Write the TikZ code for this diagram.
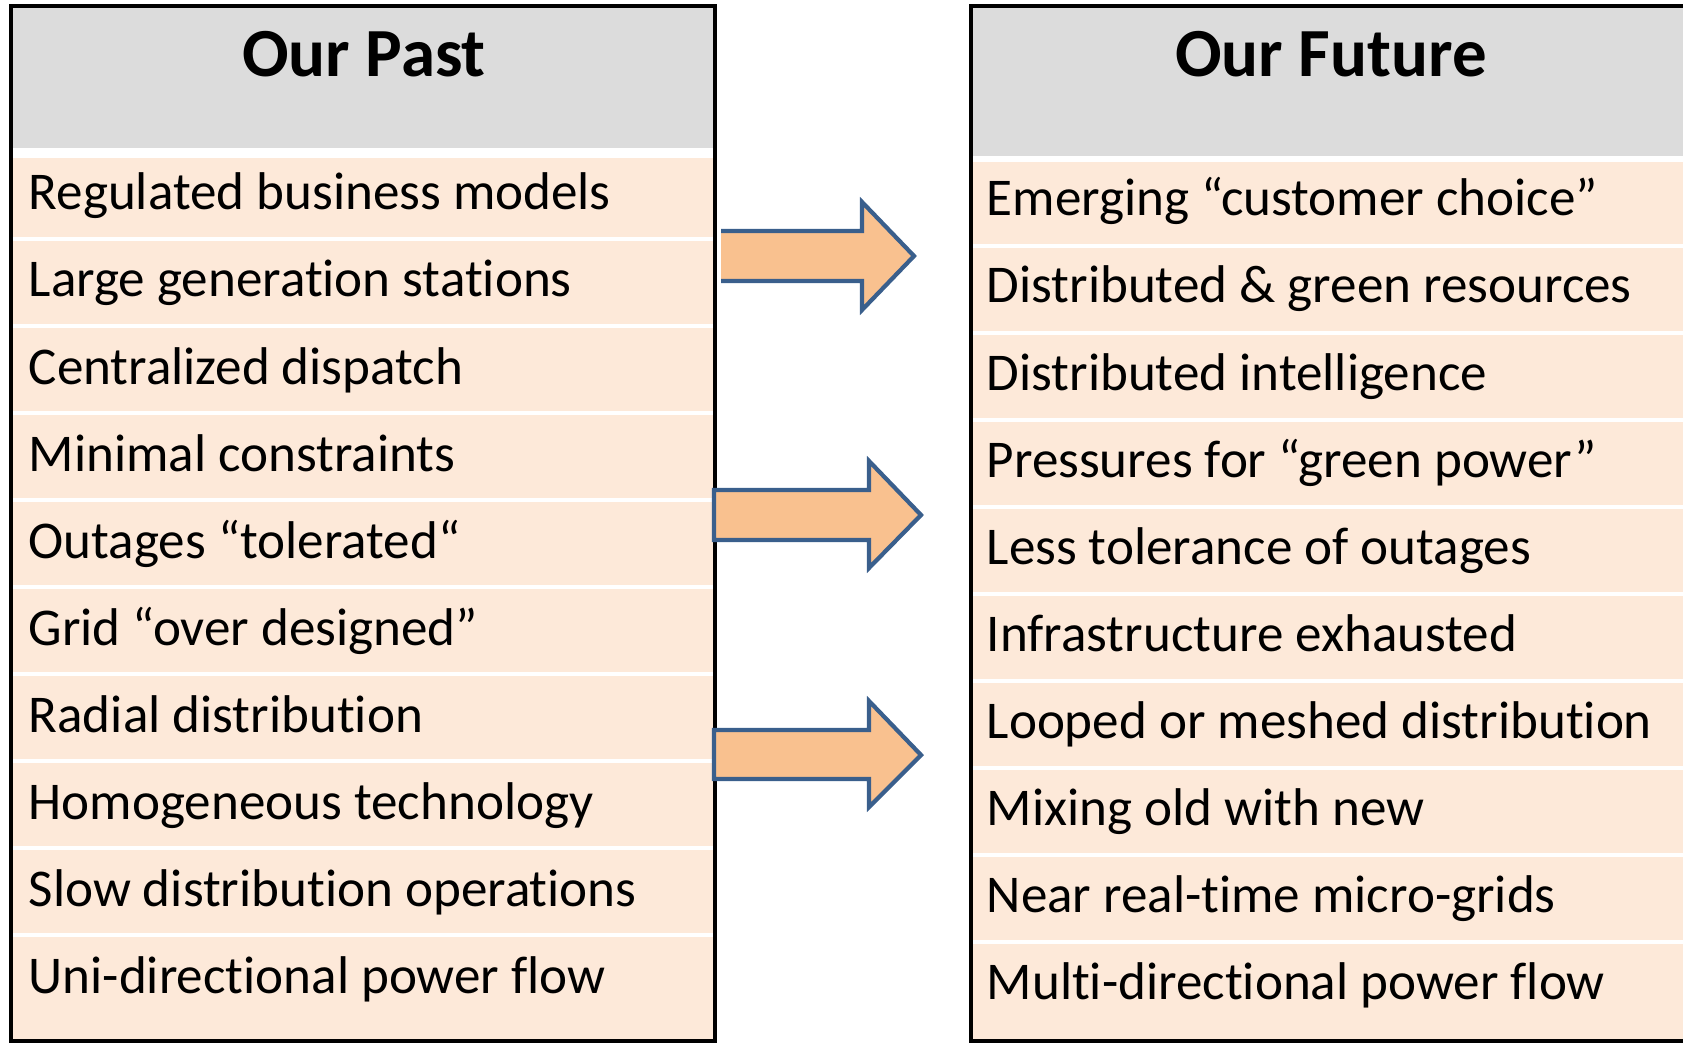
\documentclass[tikz,border=0pt]{standalone}
\usepackage{fontspec}
\setmainfont[Ligatures={NoCommon}]{Carlito}
\definecolor{headgray}{HTML}{DCDCDC}
\definecolor{rowpeach}{HTML}{FDE9D9}
\definecolor{arrowfill}{HTML}{F9C18F}
\definecolor{arrowline}{HTML}{3A5F8C}
\tikzset{
    heading/.style = {
        font = \fontsize{19.6}{23}\selectfont\bfseries,
        anchor = base,
        inner sep = 0pt,
        },
    item/.style = {
        font = \fontsize{15.1}{18}\selectfont,
        anchor = base west,
        inner sep = 0pt,
        },
    column/.style = {
        draw = black,
        line width = 1pt,
        },
    row gap/.style = {
        draw = white,
        line width = 0.9pt,
        },
    shift arrow/.style = {
        fill = arrowfill,
        draw = arrowline,
        line width = 1.2pt,
        line join = miter,
        },
    shift line/.style = {
        draw = arrowline,
        line width = 1.2pt,
        line join = miter,
        },
}

\begin{document}
\begin{tikzpicture}[x=0.01cm, y=-0.01cm]
    \useasboundingbox (0,0) rectangle (1683,1043);

    % left column
    \fill[headgray] (11,6) rectangle (715,148);
    \fill[rowpeach] (11,158) rectangle (715,1041);
    \draw[row gap] (11,239) -- +(704,0) (11,326) -- +(704,0) (11,413) -- +(704,0)
        (11,500) -- +(704,0) (11,587) -- +(704,0) (11,674) -- +(704,0)
        (11,761) -- +(704,0) (11,848) -- +(704,0) (11,935) -- +(704,0);
    \draw[column] (11,6) rectangle (715,1041);

    % right column, runs off the page
    \fill[headgray] (971,6) rectangle (1690,156);
    \fill[rowpeach] (971,162) rectangle (1690,1041);
    \draw[row gap] (971,246) -- +(719,0) (971,333) -- +(719,0) (971,420) -- +(719,0)
        (971,507) -- +(719,0) (971,594) -- +(719,0) (971,681) -- +(719,0)
        (971,768) -- +(719,0) (971,855) -- +(719,0) (971,942) -- +(719,0);
    \draw[column] (971,6) rectangle (1690,1041);

    \node[heading] (past) at (364,77) {Our Past};
    \node[heading] (future) at (1331,77) {Our Future};

    \node[item] (p1) at (28,210) {Regulated business models};
    \node[item] (p2) at (28,297) {Large generation stations};
    \node[item] (p3) at (28,384) {Centralized dispatch};
    \node[item] (p4) at (28,471) {Minimal constraints};
    \node[item] (p5) at (28,558) {Outages “tolerated“};
    \node[item] (p6) at (28,645) {Grid “over designed”};
    \node[item] (p7) at (28,732) {Radial distribution};
    \node[item] (p8) at (28,819) {Homogeneous technology};
    \node[item] (p9) at (28,906) {Slow distribution operations};
    \node[item] (p10) at (28,993) {Uni-directional power flow};

    \node[item] (f1) at (986,216) {Emerging “customer choice”};
    \node[item] (f2) at (986,303) {Distributed \& green resources};
    \node[item] (f3) at (986,390) {Distributed intelligence};
    \node[item] (f4) at (986,477) {Pressures for “green power”};
    \node[item] (f5) at (986,564) {Less tolerance of outages};
    \node[item] (f6) at (986,651) {Infrastructure exhausted};
    \node[item] (f7) at (986,738) {Looped or meshed distribution};
    \node[item] (f8) at (986,825) {Mixing old with new};
    \node[item] (f9) at (986,912) {Near real-time micro-grids};
    \node[item] (f10) at (986,999) {Multi-directional power flow};

    % block arrows between the columns
    \fill[arrowfill] (721,231) -- (862,231) -- (862,202) -- (914,256)
        -- (862,310) -- (862,281) -- (721,281) -- cycle;
    \draw[shift line] (721,231) -- (862,231) -- (862,202) -- (914,256)
        -- (862,310) -- (862,281) -- (721,281);
    \path[shift arrow] (714,490) -- (869,490) -- (869,461) -- (921,515)
        -- (869,568) -- (869,540) -- (714,540) -- cycle;
    \path[shift arrow] (714,730) -- (869,730) -- (869,701) -- (921,755)
        -- (869,807) -- (869,779) -- (714,779) -- cycle;
\end{tikzpicture}
\end{document}
